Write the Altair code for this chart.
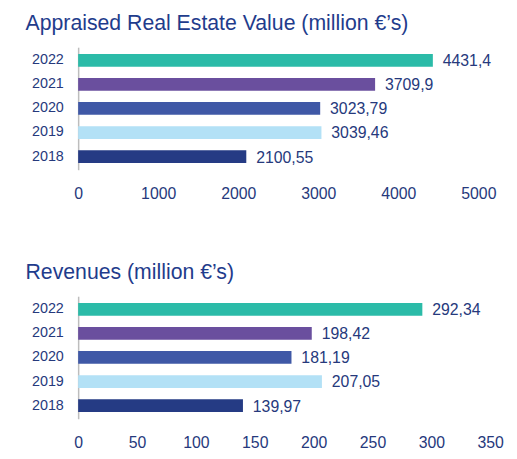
import altair as alt
import pandas as pd

years = ["2022", "2021", "2020", "2019", "2018"]
colors = ["#2BBBA8", "#6A4F9E", "#3F58A6", "#B3E1F6", "#253B84"]

appraised = [4431.4, 3709.9, 3023.79, 3039.46, 2100.55]
appraised_labels = ["4431,4", "3709,9", "3023,79", "3039,46", "2100,55"]
appraised_ticks = [0, 1000, 2000, 3000, 4000, 5000]

revenues = [292.34, 198.42, 181.19, 207.05, 139.97]
revenue_labels = ["292,34", "198,42", "181,19", "207,05", "139,97"]
revenue_ticks = [0, 50, 100, 150, 200, 250, 300, 350]

TXT = "#26397C"
FONT = "Liberation Sans"


def panel(values, labels, ticks, title, width):
    df = pd.DataFrame({"year": years, "value": values, "label": labels})
    base = alt.Chart(df).encode(
        y=alt.Y(
            "year:N",
            sort=years,
            title=None,
            scale=alt.Scale(paddingInner=0.47, paddingOuter=0.28),
            axis=alt.Axis(
                ticks=False,
                labelPadding=15,
                labelFontSize=14.5,
                labelColor=TXT,
                labelFont=FONT,
                domainColor="#BDBDBD",
                domainWidth=1.5,
            ),
        )
    )
    bars = base.mark_bar().encode(
        x=alt.X(
            "value:Q",
            title=None,
            scale=alt.Scale(domain=[ticks[0], ticks[-1]], nice=False),
            axis=alt.Axis(
                values=ticks,
                format="d",
                grid=False,
                ticks=False,
                domain=False,
                labelPadding=16,
                labelFontSize=16,
                labelColor=TXT,
                labelFont=FONT,
                labelFlush=False,
            ),
        ),
        color=alt.Color("year:N", scale=alt.Scale(domain=years, range=colors), legend=None),
    )
    text = base.mark_text(
        align="left", baseline="middle", dx=10, dy=1, fontSize=16, color=TXT, font=FONT
    ).encode(x="value:Q", text="label:N")
    return (bars + text).properties(
        width=width,
        height=124,
        title=alt.TitleParams(
            title,
            anchor="start",
            fontSize=21.5,
            fontWeight="normal",
            color="#1F3C8C",
            font=FONT,
            dx=-6,
            offset=13,
        ),
    )


top = panel(appraised, appraised_labels, appraised_ticks, "Appraised Real Estate Value (million €’s)", 405)
bottom = panel(revenues, revenue_labels, revenue_ticks, "Revenues (million €’s)", 417)

chart = (
    alt.vconcat(top, bottom, spacing=61)
    .properties(padding={"left": 17, "top": 2, "right": 5, "bottom": 0}, background="white")
    .configure_view(strokeWidth=0, stroke=None)
)

chart.save("out.html", embed_options={"renderer": "svg", "actions": False})
